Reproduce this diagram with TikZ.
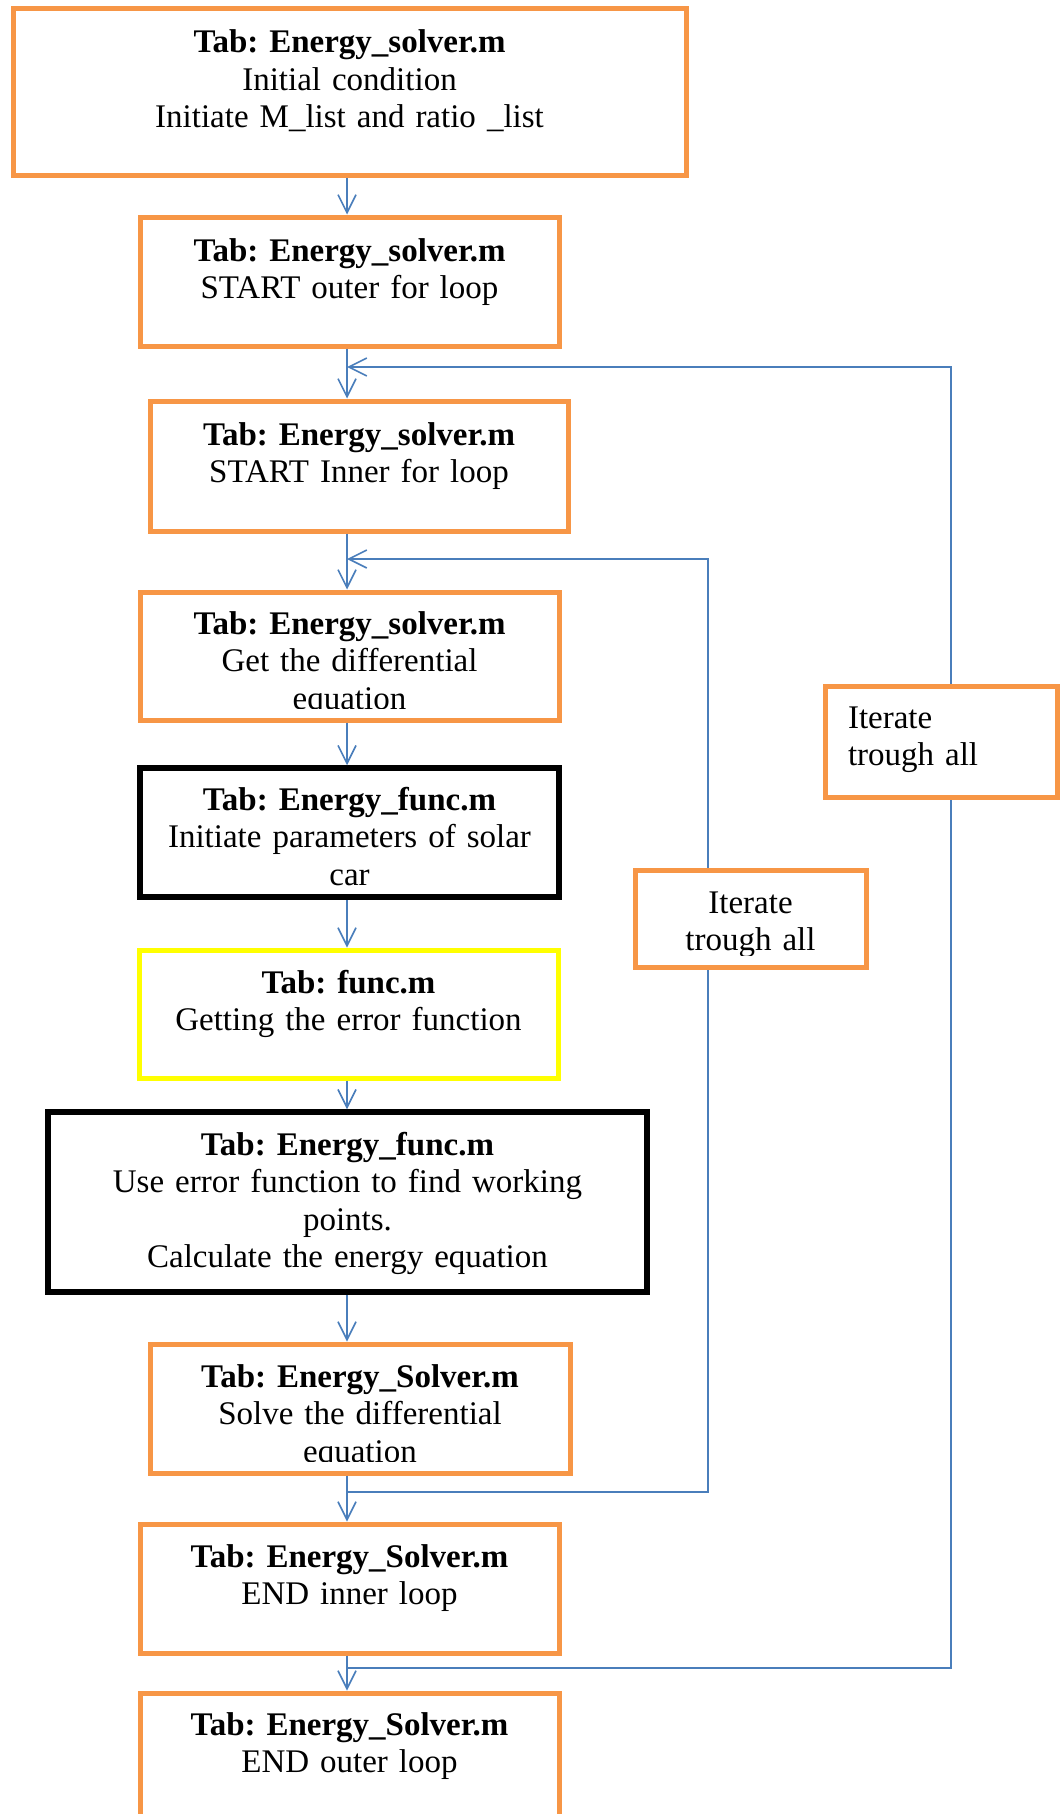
\documentclass[tikz,border=0pt]{standalone}
\usepackage{fontspec}
\setmainfont{Liberation Serif}
\usetikzlibrary{arrows.meta}
\definecolor{boxorange}{RGB}{247,150,70}
\definecolor{boxyellow}{RGB}{255,255,0}
\definecolor{connblue}{RGB}{74,126,187}
\frenchspacing
\begin{document}
\begin{tikzpicture}[x=1pt,y=-1pt,
  sz/.style 2 args={minimum width=#1pt, minimum height=#2pt},
  obox/.style={rectangle, inner sep=0pt, fill=white, draw=boxorange, line width=5pt},
  kbox/.style={rectangle, inner sep=0pt, fill=white, draw=black, line width=5.5pt},
  ybox/.style={rectangle, inner sep=0pt, fill=white, draw=boxyellow, line width=5pt},
  ibox/.style={rectangle, inner sep=0pt, fill=white, draw=boxorange, line width=5pt},
  lbl/.style={inner sep=0pt, outer sep=0pt, text width=560pt, align=center, anchor=base,
              font=\fontsize{33}{37.5}\selectfont},
  lbll/.style={inner sep=0pt, outer sep=0pt, text width=200pt, align=left, anchor=base west,
              font=\fontsize{33}{37.5}\selectfont},
  arr/.style={draw=connblue, line width=1.6pt, -{Straight Barb[length=18pt,width=18pt]}},
  conn/.style={draw=connblue, line width=1.6pt}
]
\path[use as bounding box] (0,0) rectangle (1063,1814);
\clip (0,0) rectangle (1063,1814);

% named coordinates for connector routing
\coordinate (mx) at (347,0);
\coordinate (ix) at (708,0);
\coordinate (ox) at (951,0);
\coordinate (jti) at (347,559);
\coordinate (jbi) at (347,1492);
\coordinate (jto) at (347,367);
\coordinate (jbo) at (347,1668);

% loop-back connectors (drawn first, hidden behind the iterate boxes)
\draw[arr] (jbi) -- (jbi -| ix) -- (jti -| ix) -- (jti);
\draw[arr] (jbo) -- (jbo -| ox) -- (jto -| ox) -- (jto);

% boxes
\node[obox, sz={673}{167}] (b1) at (349.5,92.5) {};
\node[obox, sz={419}{129}] (b2) at (349.5,281.5) {};
\node[obox, sz={418}{130}] (b3) at (359,466) {};
\node[obox, sz={419}{128}] (b4) at (349.5,656) {};
\node[kbox, sz={419}{129}] (b5) at (349.5,832.5) {};
\node[ybox, sz={419}{128}] (b6) at (348.5,1014) {};
\node[kbox, sz={599}{180}] (b7) at (347.5,1202) {};
\node[obox, sz={420}{129}] (b8) at (360,1408.5) {};
\node[obox, sz={419}{129}] (b9) at (349.5,1588.5) {};
\node[obox, sz={419}{160}] (b10) at (349.5,1773) {};
\node[ibox, sz={232}{111}] (itO) at (941,741.5) {};
\node[ibox, sz={231}{97}] (itI) at (750.5,918.5) {};

% main flow arrows
\draw[arr] (b1.south -| mx) -- (b2.north -| mx);
\draw[arr] (b2.south -| mx) -- (b3.north -| mx);
\draw[arr] (b3.south -| mx) -- (b4.north -| mx);
\draw[arr] (b4.south -| mx) -- (b5.north -| mx);
\draw[arr] (b5.south -| mx) -- (b6.north -| mx);
\draw[arr] (b6.south -| mx) -- (b7.north -| mx);
\draw[arr] (b7.south -| mx) -- (b8.north -| mx);
\draw[arr] (b8.south -| mx) -- (b9.north -| mx);
\draw[arr] (b9.south -| mx) -- (b10.north -| mx);

% texts (clipped to box interiors, as in the reference)
\begin{scope}\clip (b1.north west) rectangle ([yshift=14pt]b1.south east);
\node[lbl] (t1) at (349.5,53) {\textbf{Tab: Energy\_solver.m}\\Initial condition\\Initiate M\_list and ratio \_list};
\end{scope}
\begin{scope}\clip (b2.north west) rectangle ([yshift=14pt]b2.south east);
\node[lbl] (t2) at (349.5,261) {\textbf{Tab: Energy\_solver.m}\\START outer for loop};
\end{scope}
\begin{scope}\clip (b3.north west) rectangle ([yshift=14pt]b3.south east);
\node[lbl] (t3) at (359,445) {\textbf{Tab: Energy\_solver.m}\\START Inner for loop};
\end{scope}
\begin{scope}\clip (b4.north west) rectangle ([yshift=14pt]b4.south east);
\node[lbl] (t4) at (349.5,634) {\textbf{Tab: Energy\_solver.m}\\Get the differential\\equation};
\end{scope}
\begin{scope}\clip (b5.north west) rectangle ([yshift=14pt]b5.south east);
\node[lbl] (t5) at (349.5,810) {\textbf{Tab: Energy\_func.m}\\Initiate parameters of solar\\car};
\end{scope}
\begin{scope}\clip (b6.north west) rectangle ([yshift=14pt]b6.south east);
\node[lbl] (t6) at (348.5,993) {\textbf{Tab: func.m}\\Getting the error function};
\end{scope}
\begin{scope}\clip (b7.north west) rectangle ([yshift=14pt]b7.south east);
\node[lbl] (t7) at (347.5,1155) {\textbf{Tab: Energy\_func.m}\\Use error function to find working\\points.\\Calculate the energy equation};
\end{scope}
\begin{scope}\clip (b8.north west) rectangle ([yshift=14pt]b8.south east);
\node[lbl] (t8) at (360,1387) {\textbf{Tab: Energy\_Solver.m}\\Solve the differential\\equation};
\end{scope}
\begin{scope}\clip (b9.north west) rectangle ([yshift=14pt]b9.south east);
\node[lbl] (t9) at (349.5,1567) {\textbf{Tab: Energy\_Solver.m}\\END inner loop};
\end{scope}
\node[lbl] (t10) at (349.5,1735) {\textbf{Tab: Energy\_Solver.m}\\END outer loop};
\begin{scope}\clip (itO.north west) rectangle ([yshift=14pt]itO.south east);
\node[lbll] (tO) at (848,728) {Iterate\\trough all};
\end{scope}
\begin{scope}\clip (itI.north west) rectangle ([yshift=14pt]itI.south east);
\node[lbl] (tI) at (750.5,913) {Iterate\\trough all};
\end{scope}
\end{tikzpicture}
\end{document}
